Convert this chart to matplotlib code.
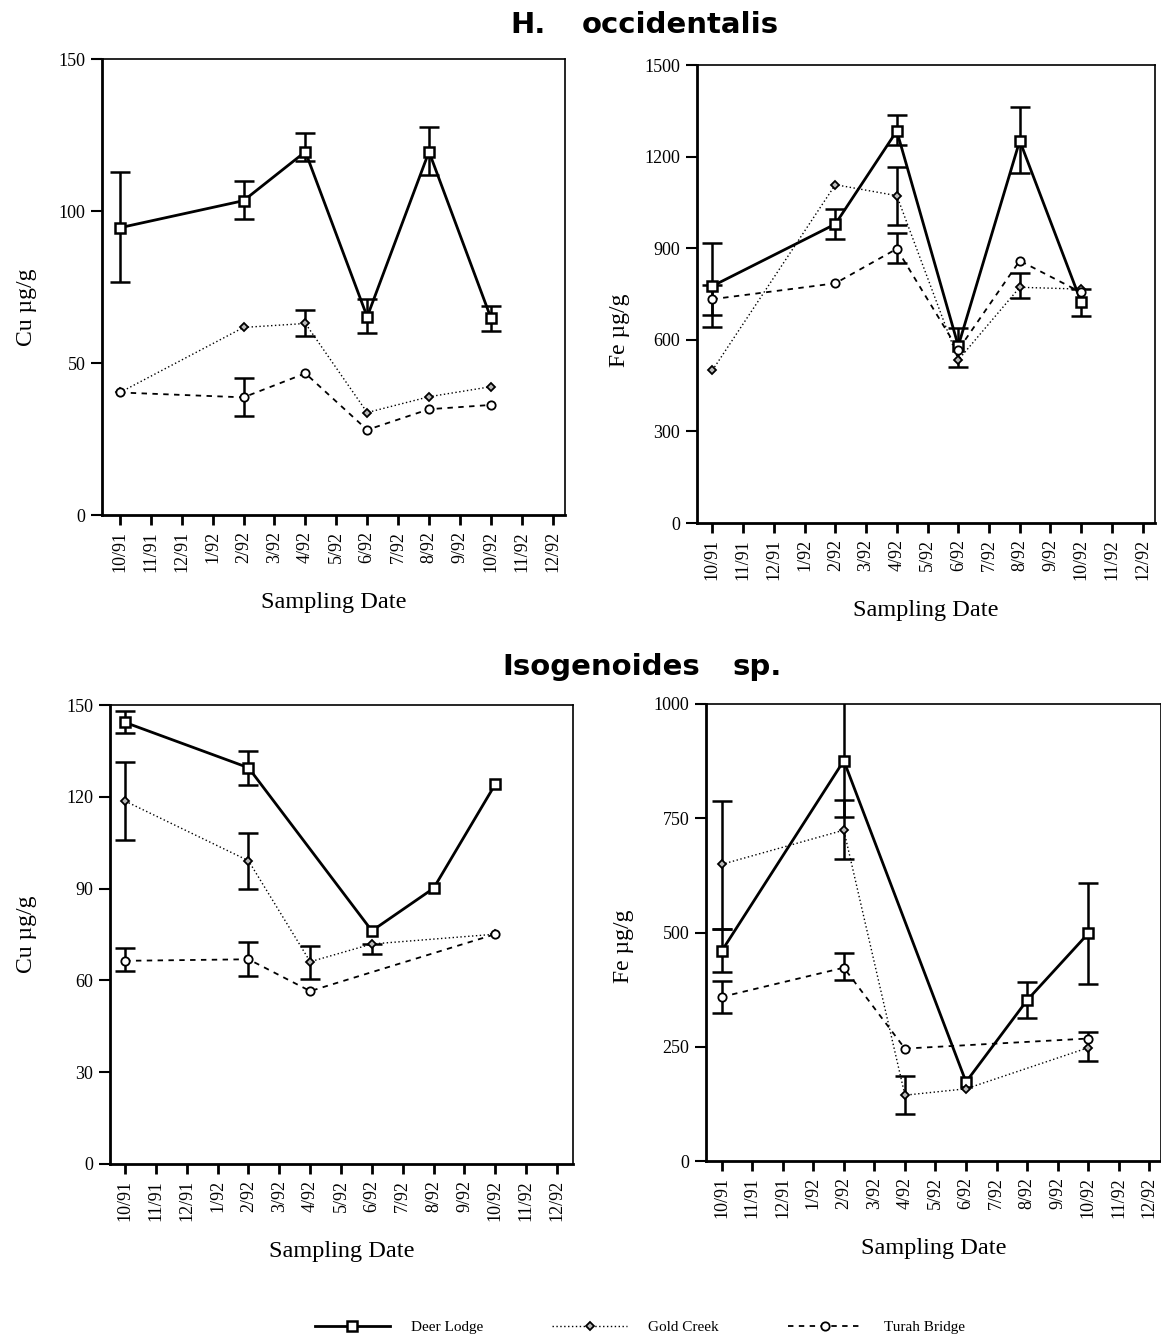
import matplotlib
matplotlib.use("Agg")
import matplotlib.pyplot as plt
from matplotlib.lines import Line2D
import numpy as np

# ---------------- data ----------------
dates = ["10/91", "11/91", "12/91", "1/92", "2/92", "3/92", "4/92", "5/92",
         "6/92", "7/92", "8/92", "9/92", "10/92", "11/92", "12/92"]

# H. occidentalis, Cu
hcu_dl_dates = ["10/91", "2/92", "4/92", "6/92", "8/92", "10/92"]
hcu_dl = [94.5, 103.4, 119.5, 65.2, 119.5, 64.9]
hcu_dl_lo = [76.5, 97.3, 116.5, 60.0, 111.8, 60.5]
hcu_dl_hi = [112.7, 109.9, 125.5, 71.0, 127.5, 68.9]
hcu_gc_dates = ["10/91", "2/92", "4/92", "6/92", "8/92", "10/92"]
hcu_gc = [40.3, 61.7, 63.0, 33.7, 38.9, 42.2]
hcu_gc_lo = [None, None, 58.9, None, None, None]
hcu_gc_hi = [None, None, 67.4, None, None, None]
hcu_tb_dates = ["10/91", "2/92", "4/92", "6/92", "8/92", "10/92"]
hcu_tb = [40.3, 38.7, 46.6, 28.0, 34.8, 36.2]
hcu_tb_lo = [None, 32.7, None, None, None, None]
hcu_tb_hi = [None, 45.0, None, None, None, None]

# H. occidentalis, Fe
hfe_dl_dates = ["10/91", "2/92", "4/92", "6/92", "8/92", "10/92"]
hfe_dl = [776, 979, 1284, 580, 1252, 723]
hfe_dl_lo = [643, 929, 1238, 512, 1145, 678]
hfe_dl_hi = [916, 1027, 1336, 638, 1361, 768]
hfe_gc_dates = ["10/91", "2/92", "4/92", "6/92", "8/92", "10/92"]
hfe_gc = [500, 1108, 1072, 534, 772, 766]
hfe_gc_lo = [None, None, 976, None, 736, None]
hfe_gc_hi = [None, None, 1167, None, 818, None]
hfe_tb_dates = ["10/91", "2/92", "4/92", "6/92", "8/92", "10/92"]
hfe_tb = [733, 785, 898, 567, 859, 755]
hfe_tb_lo = [681, None, 851, None, None, None]
hfe_tb_hi = [781, None, 949, None, None, None]

# Isogenoides sp., Cu
icu_dl_dates = ["10/91", "2/92", "6/92", "8/92", "10/92"]
icu_dl = [144.3, 129.5, 76.2, 90.1, 124.1]
icu_dl_lo = [140.7, 124.0, None, None, None]
icu_dl_hi = [148.1, 135.0, None, None, None]
icu_gc_dates = ["10/91", "2/92", "4/92", "6/92", "10/92"]
icu_gc = [118.6, 99.1, 66.1, 71.9, 75.1]
icu_gc_lo = [105.9, 89.8, 60.4, 68.5, None]
icu_gc_hi = [131.5, 108.3, 71.2, None, None]
icu_tb_dates = ["10/91", "2/92", "4/92", "10/92"]
icu_tb = [66.4, 66.9, 56.5, 75.1]
icu_tb_lo = [63.1, 61.5, None, None]
icu_tb_hi = [70.5, 72.5, None, None]

# Isogenoides sp., Fe
ife_dl_dates = ["10/91", "2/92", "6/92", "8/92", "10/92"]
ife_dl = [459, 876, 173, 352, 498]
ife_dl_lo = [414, 752, None, 313, 388]
ife_dl_hi = [507, 1010, None, 391, 609]
ife_gc_dates = ["10/91", "2/92", "4/92", "6/92", "10/92"]
ife_gc = [649, 724, 144, 158, 248]
ife_gc_lo = [507, 660, 102, None, 218]
ife_gc_hi = [788, 790, 185, None, 282]
ife_tb_dates = ["10/91", "2/92", "4/92", "10/92"]
ife_tb = [359, 423, 246, 268]
ife_tb_lo = [323, 396, None, None]
ife_tb_hi = [394, 455, None, None]

series_names = ["Deer Lodge", "Gold Creek", "Turah Bridge"]

# ---------------- styles ----------------
SERIF = ["Liberation Serif", "DejaVu Serif"]
SANS = ["DejaVu Sans"]
styles = {
    "Deer Lodge": dict(color="black", lw=2.0, ls="-", marker="s", ms=7.5,
                       mfc="white", mec="black", mew=1.8),
    "Gold Creek": dict(color="black", lw=1.0, ls=(0, (1, 1.8)), marker="D", ms=4.5,
                       mfc="#bbbbbb", mec="black", mew=1.3),
    "Turah Bridge": dict(color="black", lw=1.3, ls=(0, (3, 3)), marker="o", ms=6,
                         mfc="white", mec="black", mew=1.3),
}

fig = plt.figure(figsize=(11.61, 13.38), dpi=100)
W, H = 1161, 1338


def ax_at(l, r, t, b):
    return fig.add_axes([l / W, 1 - b / H, (r - l) / W, (b - t) / H])


def plot_series(ax, name, d, v, lo, hi):
    x = np.array([dates.index(s) for s in d], dtype=float)
    v = np.array(v, dtype=float)
    st = styles[name]
    for xi, vi, l, h in zip(x, v, lo, hi):
        if l is None and h is None:
            continue
        el = 0 if l is None else vi - l
        eh = 0 if h is None else h - vi
        ax.errorbar([xi], [vi], yerr=[[el], [eh]], fmt="none", ecolor="black",
                    elinewidth=1.8, capsize=7, capthick=1.8, zorder=2)
    ax.plot(x, v, color=st["color"], lw=st["lw"], ls=st["ls"], zorder=3)
    ax.plot(x, v, ls="none", marker=st["marker"], ms=st["ms"], mfc=st["mfc"],
            mec=st["mec"], mew=st["mew"], zorder=4)


def style_axes(ax, xlim, ylim, yticks, ylabel, ylab_xy):
    ax.set_xlim(*xlim)
    ax.set_ylim(*ylim)
    ax.set_xticks(range(len(dates)))
    ax.set_xticklabels(dates, rotation=90, fontfamily=SERIF, fontsize=13)
    ax.set_yticks(yticks)
    ax.set_yticklabels([str(t) for t in yticks], fontfamily=SERIF, fontsize=13)
    ax.tick_params(axis="x", direction="out", length=7.5, width=2, pad=4)
    ax.tick_params(axis="y", direction="out", length=8, width=1.5, pad=4)
    for s in ["left", "bottom"]:
        ax.spines[s].set_linewidth(2.0)
    for s in ["top", "right"]:
        ax.spines[s].set_linewidth(1.2)
    ax.set_xlabel("Sampling Date", fontfamily=SERIF, fontsize=17.5, labelpad=14)
    ax.set_ylabel(ylabel, fontfamily=SERIF, fontsize=17)
    ax.yaxis.set_label_coords(*ylab_xy)


# Top-left
ax1 = ax_at(102, 565, 59, 515)
plot_series(ax1, "Deer Lodge", hcu_dl_dates, hcu_dl, hcu_dl_lo, hcu_dl_hi)
plot_series(ax1, "Gold Creek", hcu_gc_dates, hcu_gc, hcu_gc_lo, hcu_gc_hi)
plot_series(ax1, "Turah Bridge", hcu_tb_dates, hcu_tb, hcu_tb_lo, hcu_tb_hi)
style_axes(ax1, (-0.58, 14.4), (0, 150), [0, 50, 100, 150], "Cu µg/g",
           ((37 - 102) / 463, (515 - 307) / 456))

# Top-right
ax2 = ax_at(697, 1155, 65, 523)
plot_series(ax2, "Deer Lodge", hfe_dl_dates, hfe_dl, hfe_dl_lo, hfe_dl_hi)
plot_series(ax2, "Gold Creek", hfe_gc_dates, hfe_gc, hfe_gc_lo, hfe_gc_hi)
plot_series(ax2, "Turah Bridge", hfe_tb_dates, hfe_tb, hfe_tb_lo, hfe_tb_hi)
style_axes(ax2, (-0.5, 14.4), (0, 1500), [0, 300, 600, 900, 1200, 1500], "Fe µg/g",
           ((630 - 697) / 458, 0.42))

# Bottom-left
ax3 = ax_at(110, 573, 705, 1164)
plot_series(ax3, "Deer Lodge", icu_dl_dates, icu_dl, icu_dl_lo, icu_dl_hi)
plot_series(ax3, "Gold Creek", icu_gc_dates, icu_gc, icu_gc_lo, icu_gc_hi)
plot_series(ax3, "Turah Bridge", icu_tb_dates, icu_tb, icu_tb_lo, icu_tb_hi)
style_axes(ax3, (-0.49, 14.52), (0, 150), [0, 30, 60, 90, 120, 150], "Cu µg/g",
           ((37 - 110) / 463, 0.50))

# Bottom-right
ax4 = ax_at(706, 1161, 704, 1161)
plot_series(ax4, "Deer Lodge", ife_dl_dates, ife_dl, ife_dl_lo, ife_dl_hi)
plot_series(ax4, "Gold Creek", ife_gc_dates, ife_gc, ife_gc_lo, ife_gc_hi)
plot_series(ax4, "Turah Bridge", ife_tb_dates, ife_tb, ife_tb_lo, ife_tb_hi)
style_axes(ax4, (-0.51, 14.38), (0, 1000), [0, 250, 500, 750, 1000], "Fe µg/g",
           ((634 - 706) / 455, 0.47))

# Titles
tkw = dict(ha="left", va="center", fontfamily=SANS, fontweight="bold", fontsize=21)
fig.text(510 / W, 1 - 25 / H, "H.", **tkw)
fig.text(582 / W, 1 - 25 / H, "occidentalis", **tkw)
fig.text(502 / W, 1 - 667 / H, "Isogenoides", **tkw)
fig.text(733 / W, 1 - 667 / H, "sp.", **tkw)

# Legend
handles = []
for n in series_names:
    st = styles[n]
    handles.append(Line2D([], [], color="black", lw=st["lw"], ls=st["ls"],
                          marker=st["marker"], ms=st["ms"], mfc=st["mfc"],
                          mec=st["mec"], mew=st["mew"]))
fig.legend(handles, series_names, loc="center", bbox_to_anchor=(640 / W, 1 - 1327 / H),
           ncol=3, frameon=False, handlelength=4.9, columnspacing=4.5, handletextpad=1.4,
           prop={"family": SERIF, "size": 11})

fig.savefig("out.png", dpi=100)
